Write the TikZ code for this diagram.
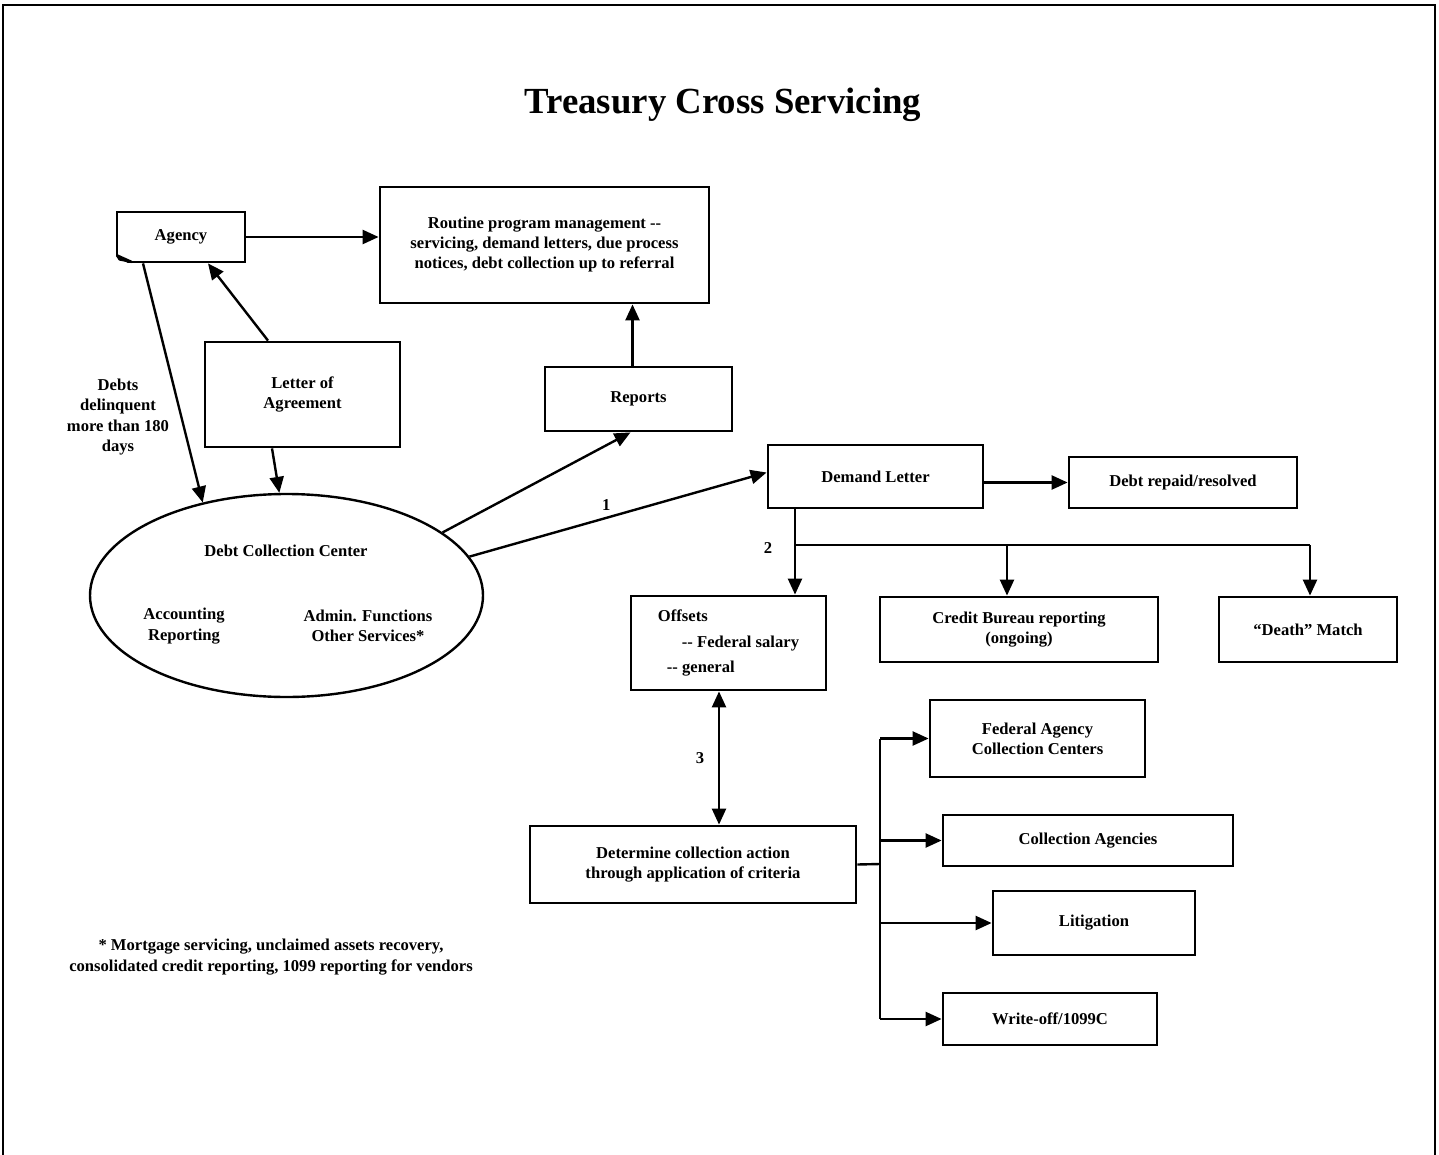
\documentclass[tikz,border=0pt]{standalone}
\usepackage{fontspec}
\setmainfont{Liberation Serif}
\usetikzlibrary{arrows.meta,shapes.geometric,calc}

\begin{document}
\begin{tikzpicture}[x=0.5pt,y=-0.5pt,
  box/.style={draw,line width=1.4pt,align=center,inner sep=2pt,font=\bfseries\fontsize{8.3}{10}\selectfont},
  lbl/.style={align=center,font=\bfseries\fontsize{8.3}{10.3}\selectfont},
  conn/.style={line width=1.2pt,-{Triangle[length=8pt,width=7pt]}},
  link/.style={line width=1.2pt}]
\useasboundingbox (0,0) rectangle (1439,1155);
\draw[line width=1pt] (3,1155) -- (3,5) -- (1435,5) -- (1435,1155);
\node[font=\bfseries\fontsize{18.4}{22}\selectfont] (title) at (723,105) {Treasury Cross Servicing};
\node[box,minimum width=64pt,minimum height=25pt] (agency) at (181,237) {Agency};
\node[box,minimum width=164.5pt,minimum height=58pt] (routine) at (544.5,245) {Routine program management -{}-\\servicing, demand letters, due process\\notices, debt collection up to referral};
\node[box,minimum width=97.5pt,minimum height=52.5pt] (letter) at (302.5,394.5) {Letter of\\Agreement};
\node[box,minimum width=93.5pt,minimum height=32pt] (reports) at (638.5,399) {Reports};
\node[box,minimum width=107.5pt,minimum height=31.5pt] (demand) at (875.5,476.5) {Demand Letter};
\node[box,minimum width=114pt,minimum height=25.5pt] (repaid) at (1183,482.5) {Debt repaid/resolved};
\node[draw,ellipse,line width=1.2pt,minimum width=196.5pt,minimum height=101.5pt,inner sep=0pt] (dcc) at (286.5,595.5) {};
\node[lbl] (dcctitle) at (286,551) {Debt Collection Center};
\node[lbl] (dccacct) at (184,626) {Accounting\\Reporting};
\node[lbl] (dccadmin) at (368,626) {Admin. Functions\\Other Services*};
\node[box,align=left,minimum width=97.5pt,minimum height=47pt] (offsets) at (728.5,643) {Offsets\\[2.6pt]\hspace*{12pt}-{}- Federal salary\\[2.6pt]\hspace*{4.5pt}-{}- general};
\node[box,minimum width=139pt,minimum height=32.5pt] (credit) at (1019,629.5) {Credit Bureau reporting\\(ongoing)};
\node[box,minimum width=89pt,minimum height=32.5pt] (death) at (1308,629.5) {“Death” Match};
\node[box,minimum width=107.5pt,minimum height=38.5pt] (fedagency) at (1037.5,738.5) {Federal Agency\\Collection Centers};
\node[box,minimum width=145pt,minimum height=25.5pt] (collagencies) at (1088,840.5) {Collection Agencies};
\node[box,minimum width=101pt,minimum height=32pt] (litigation) at (1094,923) {Litigation};
\node[box,minimum width=107pt,minimum height=26pt] (writeoff) at (1050,1019) {Write-off/1099C};
\node[box,minimum width=163pt,minimum height=38.5pt] (determine) at (693,864.5) {Determine collection action\\through application of criteria};
\node[lbl] (debts) at (118,417) {Debts\\delinquent\\more than 180\\days};
\node[lbl] (note) at (271,957) {* Mortgage servicing, unclaimed assets recovery,\\consolidated credit reporting, 1099 reporting for vendors};
\fill[white] ($(agency.south west)+(-3,3)$) -- ($(agency.south west)+(-3,-9)$) -- ($(agency.south west)+(18,3)$) -- cycle;
\draw[line width=1.2pt,line join=round,fill=black] ($(agency.south west)+(1.5,-8)$) -- ($(agency.south west)+(16,-1.5)$) -- ($(agency.south west)+(4,-4)$) -- cycle;
\draw[conn] (agency.east) -- (agency.east -| routine.west);
\draw[conn] ($(letter.north)+(-34.5,0)$) -- ($(agency.south)+(27,0)$);
\draw[conn] ($(agency.south)+(-38,0)$) -- (dcc.132);
\draw[conn] ($(letter.south)+(-30.5,0)$) -- (dcc.94);
\draw[conn] (dcc.22) -- ($(reports.south)+(-8,0)$);
\draw[conn] (dcc.12) -- node[lbl,above,pos=.46] {1} ($(demand.west)+(0,-4)$);
\coordinate (up) at ($(reports.north)+(-6,0)$);
\draw[conn] (up) -- (up |- routine.south);
\draw[conn] (demand.east |- repaid.west) -- (repaid.west);
\coordinate (split) at (795,545);
\coordinate (splitend) at (1310,545);
\coordinate (creditin) at (1007,545);
\draw[link] (split |- demand.south) -- (split) -- (splitend);
\draw[conn] (split) -- (split |- offsets.north);
\draw[conn] (creditin) -- (creditin |- credit.north);
\draw[conn] (splitend) -- (splitend |- death.north);
\node[lbl] (two) at (768,548) {2};
\coordinate (bidir) at (719,760);
\draw[link,{Triangle[length=8pt,width=7pt]}-{Triangle[length=8pt,width=7pt]}] (bidir |- offsets.south) -- (bidir |- determine.north);
\node[lbl] (three) at (700,758) {3};
\coordinate (trunk) at (880,864);
\draw[link] (determine.east) -- (trunk);
\draw[link] (trunk |- fedagency.west) -- (trunk |- writeoff.west);
\foreach \n in {fedagency,collagencies,litigation,writeoff}
  \draw[conn] (trunk |- \n.west) -- (\n.west);
\end{tikzpicture}
\end{document}
